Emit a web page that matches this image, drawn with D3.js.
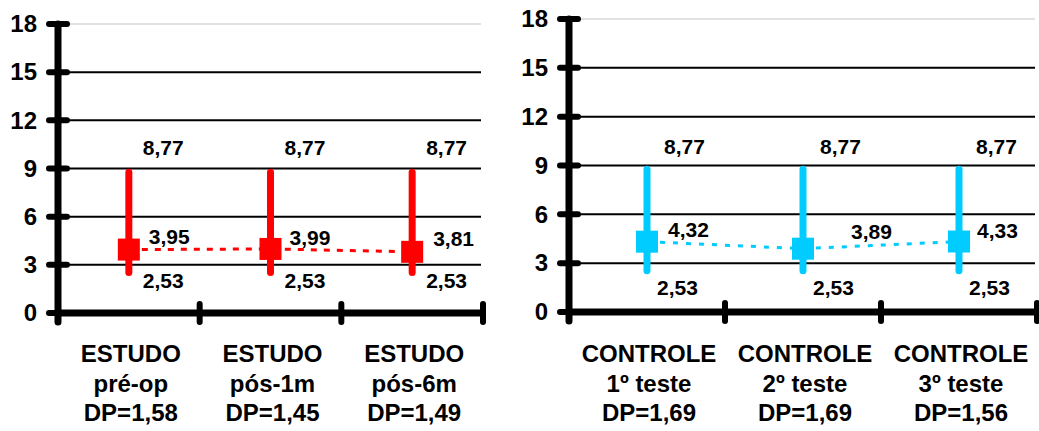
<!DOCTYPE html>
<html>
<head>
<meta charset="utf-8">
<script src="https://cdn.jsdelivr.net/npm/d3@7/dist/d3.min.js"></script>
<style>
  html, body { margin: 0; padding: 0; background: #fff; }
  svg { display: block; font-family: "Liberation Sans", Arial, sans-serif; font-weight: bold; }
</style>
</head>
<body>
<svg id="chart" width="1039" height="431"></svg>
<script>
// Y axis ticks shared by both panels
const yTicks = [0, 3, 6, 9, 12, 15, 18];

// Study group: three moments
const estudoLine1 = ["ESTUDO", "ESTUDO", "ESTUDO"];
const estudoLine2 = ["pré-op", "pós-1m", "pós-6m"];
const estudoLine3 = ["DP=1,58", "DP=1,45", "DP=1,49"];
const estudoMean = [3.95, 3.99, 3.81];
const estudoMax = [8.77, 8.77, 8.77];
const estudoMin = [2.53, 2.53, 2.53];

// Control group: three tests
const controleLine1 = ["CONTROLE", "CONTROLE", "CONTROLE"];
const controleLine2 = ["1º teste", "2º teste", "3º teste"];
const controleLine3 = ["DP=1,69", "DP=1,69", "DP=1,56"];
const controleMean = [4.32, 3.89, 4.33];
const controleMax = [8.77, 8.77, 8.77];
const controleMin = [2.53, 2.53, 2.53];

const fmt = v => d3.format(".2f")(v).replace(".", ",");

const svg = d3.select("#chart");

const panels = [
  {
    left: 58, right: 483, top: 24, bottom: 313,
    color: "#ff0000", dash: "6,7",
    l1: estudoLine1, l2: estudoLine2, l3: estudoLine3,
    mean: estudoMean, hi: estudoMax, lo: estudoMin,
    hiLab: { dx: 14, dy: -17 }, loLab: { dx: 14, dy: 16 },
    meanLab: [{ dx: 20, dy: -6 }, { dx: 19, dy: -4 }, { dx: 21, dy: -6 }]
  },
  {
    left: 569, right: 1037, top: 19, bottom: 312,
    color: "#00ccff", dash: "5,8",
    l1: controleLine1, l2: controleLine2, l3: controleLine3,
    mean: controleMean, hi: controleMax, lo: controleMin,
    hiLab: { dx: 17, dy: -15 }, loLab: { dx: 10, dy: 24 },
    meanLab: [{ dx: 21, dy: -5 }, { dx: 48, dy: -10 }, { dx: 18, dy: -4 }]
  }
];

panels.forEach(p => {
  const cats = d3.range(p.mean.length);
  const x = d3.scaleBand().domain(cats).range([p.left, p.right]).padding(0);
  const y = d3.scaleLinear().domain([0, 18]).range([p.bottom, p.top]);
  const cx = i => x(i) + x.bandwidth() / 2;
  const g = svg.append("g");

  // horizontal gridlines
  g.selectAll("line.grid")
    .data(yTicks.filter(t => t > 0))
    .join("line")
    .attr("x1", p.left).attr("x2", p.right - 2)
    .attr("y1", d => y(d)).attr("y2", d => y(d))
    .attr("stroke", d => d === 18 ? "#c4c4c4" : "#000")
    .attr("stroke-width", d => d === 18 ? 1.2 : 2);

  // y axis labels
  const yAxis = d3.axisLeft(y).tickValues(yTicks).tickSize(0).tickPadding(21);
  const ya = g.append("g").attr("transform", `translate(${p.left},0)`).call(yAxis);
  ya.select(".domain").remove();
  ya.selectAll("text")
    .attr("font-size", 24).attr("font-weight", "bold")
    .attr("font-family", "Liberation Sans, Arial, sans-serif")
    .attr("fill", "#000");

  // y axis line and tick marks
  g.append("line")
    .attr("x1", p.left).attr("x2", p.left)
    .attr("y1", y(18)).attr("y2", y(0) + 9)
    .attr("stroke", "#000").attr("stroke-width", 7).attr("stroke-linecap", "round");
  g.selectAll("line.ytick")
    .data(yTicks)
    .join("line")
    .attr("x1", p.left - 9).attr("x2", p.left + 9)
    .attr("y1", d => y(d)).attr("y2", d => y(d))
    .attr("stroke", "#000").attr("stroke-width", 6).attr("stroke-linecap", "round");

  // x axis line and boundary ticks
  g.append("line")
    .attr("x1", p.left).attr("x2", p.right)
    .attr("y1", y(0)).attr("y2", y(0))
    .attr("stroke", "#000").attr("stroke-width", 7);
  g.selectAll("line.xtick")
    .data(cats.map(i => i + 1))
    .join("line")
    .attr("x1", d => p.left + d * x.step()).attr("x2", d => p.left + d * x.step())
    .attr("y1", y(0) - 9).attr("y2", y(0) + 9)
    .attr("stroke", "#000").attr("stroke-width", 6).attr("stroke-linecap", "round");

  // dashed line joining the means
  g.append("path")
    .datum(cats)
    .attr("d", d3.line().x(i => cx(i)).y(i => y(p.mean[i])))
    .attr("fill", "none")
    .attr("stroke", p.color).attr("stroke-width", 3)
    .attr("stroke-dasharray", p.dash);

  // range bars (min to max)
  g.selectAll("line.range")
    .data(cats)
    .join("line")
    .attr("x1", i => cx(i)).attr("x2", i => cx(i))
    .attr("y1", i => y(p.hi[i])).attr("y2", i => y(p.lo[i]))
    .attr("stroke", p.color).attr("stroke-width", 7).attr("stroke-linecap", "round");

  // mean markers
  const sq = 22;
  g.selectAll("rect.mean")
    .data(cats)
    .join("rect")
    .attr("x", i => cx(i) - sq / 2).attr("y", i => y(p.mean[i]) - sq / 2)
    .attr("width", sq).attr("height", sq)
    .attr("fill", p.color);

  // value labels
  const lab = g.append("g").attr("font-size", 21).attr("fill", "#000");
  lab.selectAll("text.hi").data(cats).join("text")
    .attr("x", i => cx(i) + p.hiLab.dx).attr("y", i => y(p.hi[i]) + p.hiLab.dy)
    .text(i => fmt(p.hi[i]));
  lab.selectAll("text.mean").data(cats).join("text")
    .attr("x", i => cx(i) + p.meanLab[i].dx).attr("y", i => y(p.mean[i]) + p.meanLab[i].dy)
    .text(i => fmt(p.mean[i]));
  lab.selectAll("text.lo").data(cats).join("text")
    .attr("x", i => cx(i) + p.loLab.dx).attr("y", i => y(p.lo[i]) + p.loLab.dy)
    .text(i => fmt(p.lo[i]));

  // category labels (three lines)
  const cl = g.append("g").attr("font-size", 24).attr("text-anchor", "middle").attr("fill", "#000");
  [p.l1, p.l2, p.l3].forEach((arr, k) => {
    cl.selectAll(`text.c${k}`).data(cats).join("text")
      .attr("x", i => cx(i) + 2)
      .attr("y", 362 + k * 29.5)
      .text(i => arr[i]);
  });
});
</script>
</body>
</html>
